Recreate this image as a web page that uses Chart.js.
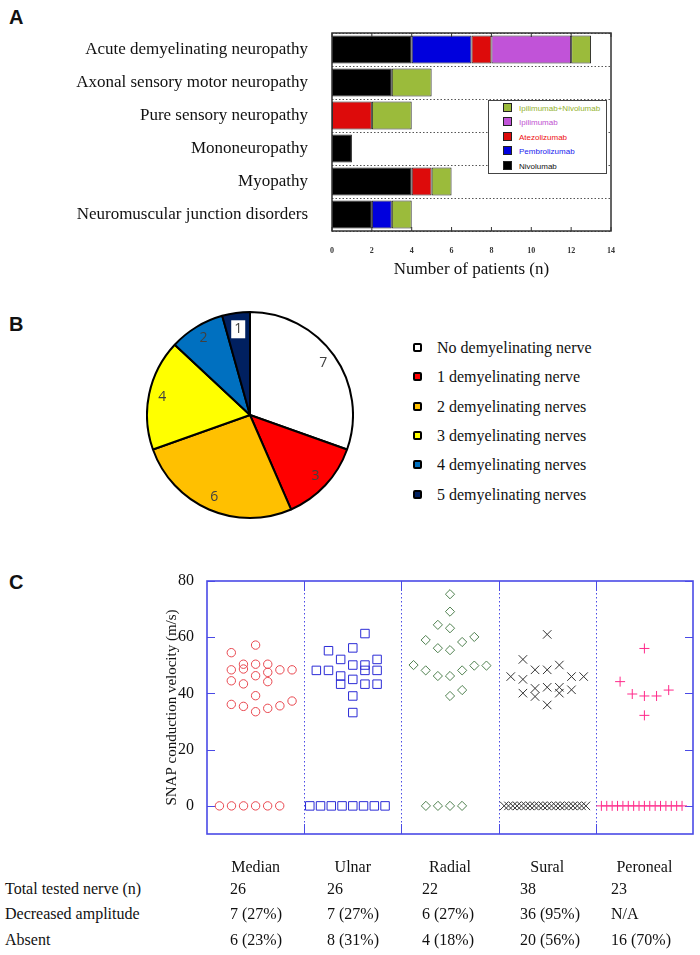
<!DOCTYPE html>
<html>
<head>
<meta charset="utf-8">
<script src="https://cdn.jsdelivr.net/npm/chart.js@4.4.1/dist/chart.umd.min.js"></script>
<style>
body{margin:0;width:700px;height:955px;position:relative;background:#fff;overflow:hidden;font-family:"Liberation Serif","Times New Roman",serif;color:#111}
.abs{position:absolute}
.letter{font-family:"Liberation Sans",Arial,sans-serif;font-weight:bold;font-size:20px}
#legA{left:488px;top:100px;width:117px;height:72px;border:1.5px solid #444;background:#fff}
#legA div{position:absolute;left:14px;height:14px;line-height:14px;font-family:"Liberation Sans",Arial,sans-serif;font-size:8px;white-space:nowrap}
#legA span{display:inline-block;width:7px;height:7px;border:1px solid #222;margin-right:7px;vertical-align:-1px}
.legB{left:413px;font-size:16px;line-height:20px;white-space:nowrap}
.legB span{display:inline-block;width:5px;height:5px;border:2.5px solid #000;border-radius:2px;margin-right:15px;vertical-align:1px}
.cell{font-size:16px;line-height:20px;white-space:nowrap}
</style>
</head>
<body>

<div class="abs letter" style="left:9px;top:6px">A</div>
<canvas id="chartA" class="abs" style="left:0;top:20px" width="640" height="270"></canvas>
<div id="legA" class="abs"></div>

<div class="abs letter" style="left:9px;top:313px">B</div>
<canvas id="chartB" class="abs" style="left:146px;top:311px" width="208" height="208"></canvas>
<div id="legB"></div>

<div class="abs letter" style="left:9px;top:571px">C</div>
<canvas id="chartC" class="abs" style="left:159px;top:570px" width="541" height="310"></canvas>
<div id="tableC"></div>

<script>
// ---- Panel A data
var categoriesA = ['Acute demyelinating neuropathy','Axonal sensory motor neuropathy','Pure sensory neuropathy','Mononeuropathy','Myopathy','Neuromuscular junction disorders'];
var nivolumab     = [4,3,0,1,4,2];
var pembrolizumab = [3,0,0,0,0,1];
var atezolizumab  = [1,0,2,0,1,0];
var ipilimumab    = [4,0,0,0,0,0];
var ipiNivo       = [1,2,2,0,1,1];
var xTicksA = [0,2,4,6,8,10,12,14];

// ---- Panel B data
var pieLabels = ['No demyelinating nerve','1 demyelinating nerve','2 demyelinating nerves','3 demyelinating nerves','4 demyelinating nerves','5 demyelinating nerves'];
var pieValues = [7,3,6,4,2,1];

// ---- Panel C data (velocity m/s, and column slot inside each nerve)
var nerves = ['Median','Ulnar','Radial','Sural','Peroneal'];
var medianVel = [57.2,54.5,50.4,50.4,50.4,48.4,48.7,46.3,47.5,48.4,48.4,44.5,43.4,44.2,39.2,36.1,35.4,33.5,34.7,35.6,37.3];
var medianCol = [0,-2,-1,0,1,-2,-1,0,1,2,3,-2,-1,1,0,-2,-1,0,1,2,3];
var ulnarVel = [61.3,55.2,56.2,52.1,52.1,50.1,50.1,48.2,48.2,48.2,48.2,46.2,45.0,43.3,43.3,43.3,39.1,33.2];
var ulnarCol = [1,-2,0,-1,2,0,1,-3,-2,1,2,-1,0,-1,1,2,0,0];
var radialVel = [75.3,69.1,64.4,63.2,59.0,56.1,55.4,58.3,60.1,50.1,48.2,46.2,46.2,48.2,49.9,49.9,39.1,41.2];
var radialCol = [0,0,-1,0,-2,-1,0,1,2,-3,-2,-1,0,1,2,3,0,1];
var suralVel = [61.0,52.1,46.0,45.0,48.4,48.4,50.1,46.0,46.0,40.1,41.8,38.9,42.2,42.2,40.1,41.3,35.9];
var suralCol = [0,-2,-3,-2,-1,0,1,2,3,-2,-1,-1,0,1,1,2,0];
var peronealVel = [56.0,44.2,39.8,39.1,39.1,41.2,32.2];
var peronealCol = [0,-2,-1,0,1,2,0];
var absentCounts = [6,8,4,20,16];
var yTicksC = [0,20,40,60,80];

var rowLabels = ['Total tested nerve  (n)','Decreased amplitude','Absent'];
var totalTested  = ['26','26','22','38','23'];
var decreasedAmp = ['7 (27%)','7 (27%)','6 (27%)','36 (95%)','N/A'];
var absentRow    = ['6 (23%)','8 (31%)','4 (18%)','20 (56%)','16 (70%)'];

var serif = '"Liberation Serif","Times New Roman",serif';

// ================= Panel A
function nz(a){ return a.map(function(v){ return v === 0 ? null : v; }); }
var drugs = [
  {label:'Nivolumab', data:nivolumab, color:'#000000', text:'#111111'},
  {label:'Pembrolizumab', data:pembrolizumab, color:'#0000dd', text:'#1a1aee'},
  {label:'Atezolizumab', data:atezolizumab, color:'#dd0b0b', text:'#ee1111'},
  {label:'Ipilimumab', data:ipilimumab, color:'#c153d8', text:'#c050d0'},
  {label:'Ipilimumab+Nivolumab', data:ipiNivo, color:'#9bbb3b', text:'#93b22e'}
];

var frameA = {
  id:'frameA',
  afterDraw:function(chart){
    var ctx = chart.ctx, a = chart.chartArea, x = chart.scales.x;
    ctx.save();
    ctx.strokeStyle = '#333'; ctx.lineWidth = 1.5;
    ctx.strokeRect(a.left, a.top, a.right - a.left, a.bottom - a.top);
    ctx.lineWidth = 1;
    xTicksA.forEach(function(v){
      var px = x.getPixelForValue(v);
      ctx.beginPath();
      ctx.moveTo(px, a.top); ctx.lineTo(px, a.top + 4);
      ctx.moveTo(px, a.bottom); ctx.lineTo(px, a.bottom - 4);
      ctx.stroke();
    });
    ctx.restore();
  }
};

new Chart(document.getElementById('chartA'), {
  type:'bar',
  data:{
    labels:categoriesA,
    datasets:drugs.map(function(d){
      return {label:d.label, data:nz(d.data), backgroundColor:d.color, borderColor:'#222', borderWidth:1,
              borderSkipped:false, barPercentage:0.85, categoryPercentage:1};
    })
  },
  options:{
    indexAxis:'y', responsive:false, animation:false,
    layout:{padding:{top:13, right:29, left:0, bottom:0}},
    plugins:{legend:{display:false}, tooltip:{enabled:false}},
    scales:{
      x:{
        stacked:true, min:0, max:14,
        afterBuildTicks:function(s){ s.ticks = xTicksA.map(function(v){ return {value:v}; }); },
        grid:{display:false, drawTicks:false}, border:{display:false},
        ticks:{padding:15, color:'#333', font:{family:serif, size:8, weight:'bold'}},
        title:{display:true, text:'Number of patients (n)', color:'#111', font:{family:serif, size:17}, padding:{top:0, bottom:10}},
        afterFit:function(s){ s.height = 59; s.paddingLeft = 0; s.paddingRight = 0; }
      },
      y:{
        stacked:true,
        grid:{display:true, offset:true, drawTicks:false, color:'#555', lineWidth:1},
        border:{display:false, dash:[1.5,2]},
        ticks:{padding:24, color:'#111', font:{family:serif, size:17}},
        afterFit:function(s){ s.width = 332; s.paddingTop = 0; s.paddingBottom = 0; }
      }
    }
  },
  plugins:[frameA]
});

// legend A (listed top to bottom in reverse stack order)
var legA = document.getElementById('legA');
drugs.slice().reverse().forEach(function(d, i){
  var row = document.createElement('div');
  row.style.top = (1 + i * 14.4) + 'px';
  row.style.color = d.text;
  row.innerHTML = '<span style="background:' + d.color + '"></span>' + d.label;
  legA.appendChild(row);
});

// ================= Panel B
var pieColors = ['#ffffff','#ff0000','#ffc000','#ffff00','#0070c0','#002060'];

var pieNumbers = {
  id:'pieNumbers',
  afterDatasetsDraw:function(chart){
    var ctx = chart.ctx;
    var arcs = chart.getDatasetMeta(0).data;
    ctx.save();
    ctx.font = '14px "Open Sans","Liberation Sans",sans-serif';
    ctx.textAlign = 'center'; ctx.textBaseline = 'middle';
    arcs.forEach(function(arc, i){
      var p = arc.getProps(['x','y','startAngle','endAngle','outerRadius']);
      var mid = (p.startAngle + p.endAngle) / 2;
      var r = p.outerRadius * (pieValues[i] === 1 ? 0.84 : 0.87);
      var tx = p.x + Math.cos(mid) * r, ty = p.y + Math.sin(mid) * r;
      if (pieValues[i] === 1) {
        ctx.fillStyle = '#fff';
        ctx.fillRect(tx - 7, ty - 9, 14, 18);
      }
      ctx.fillStyle = '#404040';
      ctx.fillText(String(pieValues[i]), tx, ty);
    });
    ctx.restore();
  }
};

new Chart(document.getElementById('chartB'), {
  type:'pie',
  data:{labels:pieLabels, datasets:[{data:pieValues, backgroundColor:pieColors, borderColor:'#000', borderWidth:2}]},
  options:{
    responsive:false, animation:false,
    layout:{padding:0},
    plugins:{legend:{display:false}, tooltip:{enabled:false}}
  },
  plugins:[pieNumbers]
});

var legB = document.getElementById('legB');
pieLabels.forEach(function(t, i){
  var d = document.createElement('div');
  d.className = 'abs legB';
  d.style.top = (338 + i * 29.3) + 'px';
  d.innerHTML = '<span style="background:' + pieColors[i] + '"></span>' + t;
  legB.appendChild(d);
});

// ================= Panel C
var colStep = 0.125;
function nervePoints(i, vel, col){
  var pts = vel.map(function(v, k){ return {x:i + 0.5 + col[k] * colStep, y:v}; });
  var n = absentCounts[i];
  var step = Math.min(0.124, 0.885 / n);
  var start = i + 0.5 - step / 2 - step * (n - 1) / 2;
  for (var k = 0; k < n; k++) pts.push({x:start + k * step, y:0});
  return pts;
}

var nerveStyle = [
  {vel:medianVel, col:medianCol, shape:'circle', r:4.2, color:'#e8474f'},
  {vel:ulnarVel, col:ulnarCol, shape:'rect', r:6, color:'#2b2bd6'},
  {vel:radialVel, col:radialCol, shape:'rectRot', r:4.6, color:'#4f804f'},
  {vel:suralVel, col:suralCol, shape:'crossRot', r:6, color:'#333333'},
  {vel:peronealVel, col:peronealCol, shape:'cross', r:5, color:'#ff2a8a'}
];

var frameC = {
  id:'frameC',
  beforeDatasetsDraw:function(chart){
    var ctx = chart.ctx, a = chart.chartArea, x = chart.scales.x, y = chart.scales.y;
    ctx.save();
    ctx.strokeStyle = '#4a4ae6'; ctx.lineWidth = 1;
    for (var i = 1; i < nerves.length; i++) {
      var px = Math.round(x.getPixelForValue(i)) + 0.5;
      ctx.setLineDash([1.5,2.5]);
      ctx.beginPath(); ctx.moveTo(px, a.top); ctx.lineTo(px, a.bottom); ctx.stroke();
      ctx.setLineDash([]);
      ctx.beginPath();
      ctx.moveTo(px, a.top); ctx.lineTo(px, a.top + 10);
      ctx.moveTo(px, a.bottom); ctx.lineTo(px, a.bottom - 10);
      ctx.stroke();
    }
    yTicksC.forEach(function(v){
      var py = Math.round(y.getPixelForValue(v)) + 0.5;
      ctx.beginPath();
      ctx.moveTo(a.left, py); ctx.lineTo(a.left + 8, py);
      ctx.moveTo(a.right, py); ctx.lineTo(a.right - 8, py);
      ctx.stroke();
    });
    ctx.lineWidth = 1.6;
    ctx.strokeRect(a.left, a.top, a.right - a.left, a.bottom - a.top);
    ctx.restore();
  }
};

new Chart(document.getElementById('chartC'), {
  type:'scatter',
  data:{
    datasets:nerveStyle.map(function(s, i){
      return {label:nerves[i], data:nervePoints(i, s.vel, s.col), pointStyle:s.shape, pointRadius:s.r,
              pointBorderColor:s.color, pointBackgroundColor:'rgba(0,0,0,0)', pointBorderWidth:1};
    })
  },
  options:{
    responsive:false, animation:false,
    layout:{padding:{top:11, right:7, left:0, bottom:0}},
    plugins:{legend:{display:false}, tooltip:{enabled:false}},
    scales:{
      x:{
        type:'linear', min:0, max:5,
        afterBuildTicks:function(s){ s.ticks = nerves.map(function(n, i){ return {value:i + 0.5}; }); },
        grid:{display:false, drawTicks:false}, border:{display:false},
        ticks:{padding:24, color:'#111', font:{family:serif, size:16}, autoSkip:false, maxRotation:0,
               callback:function(v){ return nerves[Math.floor(v)]; }},
        afterFit:function(s){ s.height = 46; s.paddingLeft = 0; s.paddingRight = 0; }
      },
      y:{
        min:-10, max:80,
        afterBuildTicks:function(s){ s.ticks = yTicksC.map(function(v){ return {value:v}; }); },
        grid:{display:false, drawTicks:false}, border:{display:false},
        ticks:{padding:13, color:'#111', font:{family:serif, size:16}},
        title:{display:true, text:'SNAP conduction velocity (m/s)', color:'#111', font:{family:serif, size:15}, padding:{top:4, bottom:4}},
        afterFit:function(s){ s.width = 48; s.paddingTop = 0; s.paddingBottom = 0; }
      }
    }
  },
  plugins:[frameC]
});

// table under panel C
var tableC = document.getElementById('tableC');
var colX = [230,327,422,520,611];
var rowY = [889,914,940];
[totalTested, decreasedAmp, absentRow].forEach(function(row, r){
  var lab = document.createElement('div');
  lab.className = 'abs cell';
  lab.style.left = '5px'; lab.style.top = (rowY[r] - 10) + 'px';
  lab.textContent = rowLabels[r];
  tableC.appendChild(lab);
  row.forEach(function(v, c){
    var d = document.createElement('div');
    d.className = 'abs cell';
    d.style.left = colX[c] + 'px'; d.style.top = (rowY[r] - 10) + 'px';
    d.textContent = v;
    tableC.appendChild(d);
  });
});
</script>
</body>
</html>
